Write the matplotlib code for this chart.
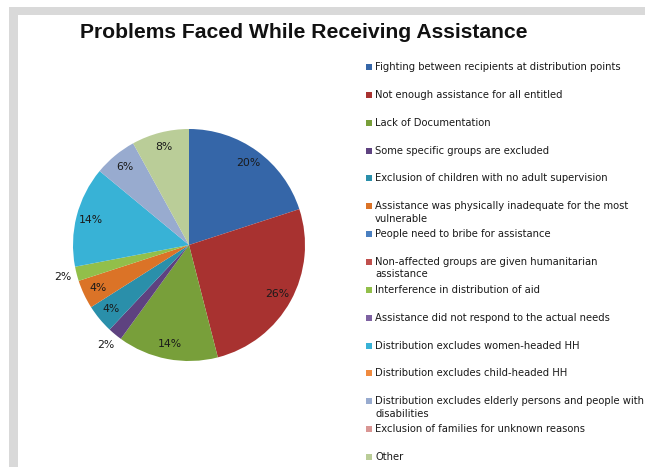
import numpy as np
import matplotlib
matplotlib.use("Agg")
from matplotlib import pyplot as plt
from matplotlib.patches import Rectangle

categories = [
    "Fighting between recipients at distribution points",
    "Not enough assistance for all entitled",
    "Lack of Documentation",
    "Some specific groups are excluded",
    "Exclusion of children with no adult supervision",
    "Assistance was physically inadequate for the most\nvulnerable",
    "People need to bribe for assistance",
    "Non-affected groups are given humanitarian\nassistance",
    "Interference in distribution of aid",
    "Assistance did not respond to the actual needs",
    "Distribution excludes women-headed HH",
    "Distribution excludes child-headed HH",
    "Distribution excludes elderly persons and people with\ndisabilities",
    "Exclusion of families for unknown reasons",
    "Other",
]
percents = [20, 26, 14, 2, 4, 4, 0, 0, 2, 0, 14, 0, 6, 0, 8]
colors = [
    "#3566A8", "#A83230", "#789F3A", "#5E4280", "#2A8FAA",
    "#DB7327", "#4A7FC0", "#C0504D", "#92BF4A", "#7E62A2",
    "#38B2D6", "#F08A3E", "#98ABCF", "#D99694", "#BACD98",
]
title = "Problems Faced While Receiving Assistance"

W, H = 645, 467
fig = plt.figure(figsize=(W / 100, H / 100), dpi=100)


def fx(px):
    return px / W


def fy(py):
    return 1 - py / H


# grey frame along top and left edge
frame = "#D9D9D9"
fig.patches.append(Rectangle((fx(9), fy(15)), fx(636), 8 / H, transform=fig.transFigure,
                             facecolor=frame, edgecolor="none"))
fig.patches.append(Rectangle((fx(9), 0), 9 / W, fy(7), transform=fig.transFigure,
                             facecolor=frame, edgecolor="none"))

fig.text(fx(304), fy(33), title, ha="center", va="center",
         fontsize=15.2, fontweight="bold", family="Liberation Sans", color="#111111")

# pie
cx, cy, r = 189, 245, 116
ax = fig.add_axes([fx(cx - r), fy(cy + r), 2 * r / W, 2 * r / H])
wedges, _ = ax.pie(percents, colors=colors, startangle=90, counterclock=False,
                   wedgeprops=dict(linewidth=0, edgecolor="none"))
ax.set_xlim(-1, 1)
ax.set_ylim(-1, 1)
ax.axis("off")

for w, p in zip(wedges, percents):
    if p == 0:
        continue
    ang = np.deg2rad((w.theta1 + w.theta2) / 2)
    d = 1.12 if p < 3 else 0.87
    ax.text(d * np.cos(ang), d * np.sin(ang), f"{p}%", ha="center", va="center",
            fontsize=7.8, color="#1a1a1a")

# legend
y0, step = 67, 27.86
for i, (lab, c) in enumerate(zip(categories, colors)):
    y = y0 + i * step
    fig.patches.append(Rectangle((fx(366), fy(y + 3)), 6 / W, 6 / H, transform=fig.transFigure,
                                 facecolor=c, edgecolor="none"))
    fig.text(fx(375), fy(y - 5), lab, ha="left", va="top", fontsize=7.2,
             linespacing=1.3, color="#1a1a1a")

fig.savefig("out.png", dpi=100)
